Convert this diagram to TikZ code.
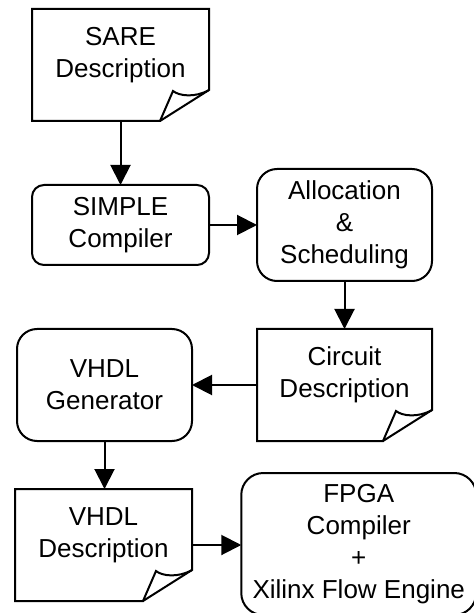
\documentclass[tikz,border=0pt]{standalone}
\usepackage{fontspec}
\setmainfont{Liberation Sans}
\usetikzlibrary{arrows.meta, calc, positioning}

% outline of a sheet with a curled corner
\newcommand{\docpage}[1]{%
  \draw (#1.north west) -- (#1.north east) -- ($(#1.south east)+(0,-31)$)
    .. controls +(-14,8) and +(6,5) .. ($(#1.south east)+(-36,-30)$)
    -- ($(#1.south east)+(-49,0)$) -- (#1.south west) -- cycle;
  \draw ($(#1.south east)+(0,-31)$) -- ($(#1.south east)+(-49,0)$);
}

\begin{document}
\begin{tikzpicture}[x=0.5pt, y=-0.5pt, line width=1pt, line join=miter,
    >={Triangle[length=10pt, width=10pt]},
    font=\fontsize{13}{16}\selectfont,
    proc/.style={draw, rounded corners=10pt, align=center,
      minimum width=87.5pt, minimum height=56pt, outer sep=0pt},
    docbox/.style={align=center, minimum width=88.5pt,
      minimum height=56pt, outer sep=0pt, text depth=12.5pt}]
  \useasboundingbox (0,0) rectangle (474,613);
  \clip (0,0) rectangle (474,613);

  % Sheets
  \node[docbox] (sare) at (120.5,65) {SARE\\Description};
  \node[docbox, minimum width=87.5pt] (circuit) at (344.5,385) {Circuit\\Description};
  \node[docbox] (vdesc) at (103.5,545) {VHDL\\Description};
  \docpage{sare}
  \docpage{circuit}
  \docpage{vdesc}

  % Tools
  \node[proc, rounded corners=6pt, minimum width=88.5pt, minimum height=40pt] (simple) at (120.5,225) {SIMPLE\\Compiler};
  \node[proc] (alloc) at (344.5,225) {Allocation\\\&\\Scheduling};
  \node[proc] (vgen) at (104.5,385) {VHDL\\Generator};
  \node[proc, rounded corners=11pt, minimum width=117.5pt, minimum height=71pt] (fpga) at (358.75,544) {FPGA\\Compiler\\+\\Xilinx Flow Engine};

  % Flow
  \draw[->] (sare.south) -- (simple.north);
  \draw[->] (simple.east) -- (simple.east -| alloc.west);
  \draw[->] (alloc.south) -- (circuit.north);
  \draw[->] (circuit.west) -- (circuit.west -| vgen.east);
  \draw[->] (vgen.south) -- (vgen.south |- vdesc.north);
  \draw[->] (vdesc.east) -- (vdesc.east -| fpga.west);
\end{tikzpicture}
\end{document}
